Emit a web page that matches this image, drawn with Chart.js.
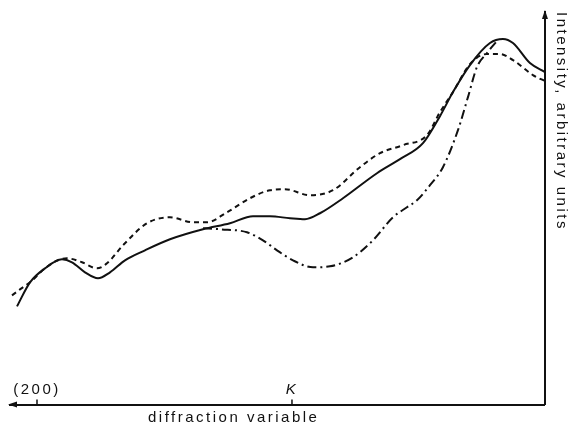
<!DOCTYPE html>
<html>
  <head>
    <meta charset="utf-8">
    <title>Intensity vs diffraction variable</title>
    <script src="https://cdn.jsdelivr.net/npm/chart.js@4.4.0/dist/chart.umd.min.js"></script>
    <style>
      html, body { margin: 0; padding: 0; background: #fff; }
      #wrap { width: 568px; height: 426px; }
    </style>
  </head>
  <body>
    <div id="wrap"><canvas id="chart" width="568" height="426"></canvas></div>

    <script type="text/javascript">
    // values (arbitrary units)
    var solidX = [7, 20, 35, 52, 62, 75, 88, 100, 115, 135, 160, 193, 220, 243, 260, 280, 295, 310, 333, 367, 390, 413, 430, 443, 460, 480, 493, 503, 520, 535]
    var solidY = [98, 122, 136, 145, 142, 132, 126, 132, 144, 154, 165, 175, 181, 188, 188, 186, 185, 191, 206, 231, 245, 261, 288, 312, 339, 361, 365, 361, 341, 332]

    var dashX = [2, 10, 20, 35, 50, 57, 72, 87, 97, 113, 137, 160, 183, 197, 217, 240, 260, 275, 300, 323, 350, 370, 393, 417, 430, 443, 460, 477, 490, 503, 523, 535]
    var dashY = [109, 115, 122, 136, 145, 146, 142, 136, 141, 159, 181, 187, 182, 182, 192, 206, 214, 215, 209, 214, 237, 251, 259, 269, 292, 312, 340, 350, 350, 344, 329, 323]

    var dotX = [193, 210, 237, 253, 267, 283, 303, 320, 343, 363, 383, 397, 407, 420, 433, 448, 458, 467, 477, 487]
    var dotY = [176, 175, 172, 164, 154, 144, 137, 138, 147, 164, 187, 197, 204, 219, 237, 274, 307, 337, 351, 363]

    var tickPos = [27, 282]
    var tickLabels = ["(200)", "K"]
    var xTitle = "diffraction variable"
    var xTitleStart = 138
    var yTitle = "Intensity, arbitrary units"

    var ink = "#111"
    var fontFamily = '"Liberation Sans", Arial, Helvetica, sans-serif'

    function pts(xs, ys) {
      return xs.map(function(x, i) { return {x: x, y: ys[i]} })
    }

    var axisDecor = {
      id: 'axisDecor',
      beforeDraw: function(chart) {
        chart.ctx.letterSpacing = '2.5px'
      },
      afterDraw: function(chart) {
        var ctx = chart.ctx
        var a = chart.chartArea
        var xs = chart.scales.x
        var yAxis = a.bottom
        ctx.save()
        ctx.fillStyle = ink
        ctx.strokeStyle = ink

        // arrow heads
        ctx.beginPath()
        ctx.moveTo(a.left - 2, yAxis)
        ctx.lineTo(a.left + 7, yAxis - 3)
        ctx.lineTo(a.left + 7, yAxis + 3)
        ctx.closePath()
        ctx.fill()

        ctx.beginPath()
        ctx.moveTo(a.right, a.top - 2)
        ctx.lineTo(a.right - 3, a.top + 7)
        ctx.lineTo(a.right + 3, a.top + 7)
        ctx.closePath()
        ctx.fill()

        // ticks above the axis
        ctx.lineWidth = 1.5
        ctx.textBaseline = 'alphabetic'
        ctx.textAlign = 'center'
        tickPos.forEach(function(v, i) {
          var px = xs.getPixelForValue(v)
          ctx.beginPath()
          ctx.moveTo(px, yAxis)
          ctx.lineTo(px, yAxis - 5)
          ctx.stroke()
          ctx.font = (tickLabels[i] === 'K' ? 'italic ' : '') + '15px ' + fontFamily
          ctx.fillText(tickLabels[i], px, yAxis - 11)
        })

        ctx.font = '15px ' + fontFamily
        ctx.textAlign = 'left'
        ctx.fillText(xTitle, xs.getPixelForValue(xTitleStart), yAxis + 17.5)
        ctx.restore()
        ctx.letterSpacing = '0px'
      }
    }

    var chart = new Chart(document.getElementById('chart'), {
      type: 'line',
      data: {
        datasets: [
          {
            label: "solid",
            data: pts(solidX, solidY),
            borderColor: ink,
            borderWidth: 2,
            pointRadius: 0,
            cubicInterpolationMode: 'monotone'
          },
          {
            label: "dashed",
            data: pts(dashX, dashY),
            borderColor: ink,
            borderWidth: 2,
            borderDash: [5, 4],
            pointRadius: 0,
            cubicInterpolationMode: 'monotone'
          },
          {
            label: "dash-dot",
            data: pts(dotX, dotY),
            borderColor: ink,
            borderWidth: 2,
            borderDash: [9, 4, 2, 4],
            pointRadius: 0,
            cubicInterpolationMode: 'monotone'
          }
        ]
      },
      options: {
        responsive: false,
        animation: false,
        devicePixelRatio: 1,
        layout: { padding: { left: 10, top: 12, right: 0, bottom: 21.5 } },
        plugins: { legend: { display: false }, tooltip: { enabled: false } },
        scales: {
          x: {
            type: 'linear',
            min: 0,
            max: 535,
            grid: { display: false, drawTicks: false },
            ticks: { display: false },
            border: { display: true, color: ink, width: 2 }
          },
          y: {
            position: 'right',
            min: 0,
            max: 392,
            grid: { display: false, drawTicks: false },
            ticks: { display: false },
            border: { display: true, color: ink, width: 2 },
            title: {
              display: true,
              text: yTitle,
              align: 'end',
              color: ink,
              font: { family: fontFamily, size: 15, lineHeight: 0.97 },
              padding: { top: 0, bottom: 8.5 }
            }
          }
        }
      },
      plugins: [axisDecor]
    });
    </script>
  </body>
</html>
